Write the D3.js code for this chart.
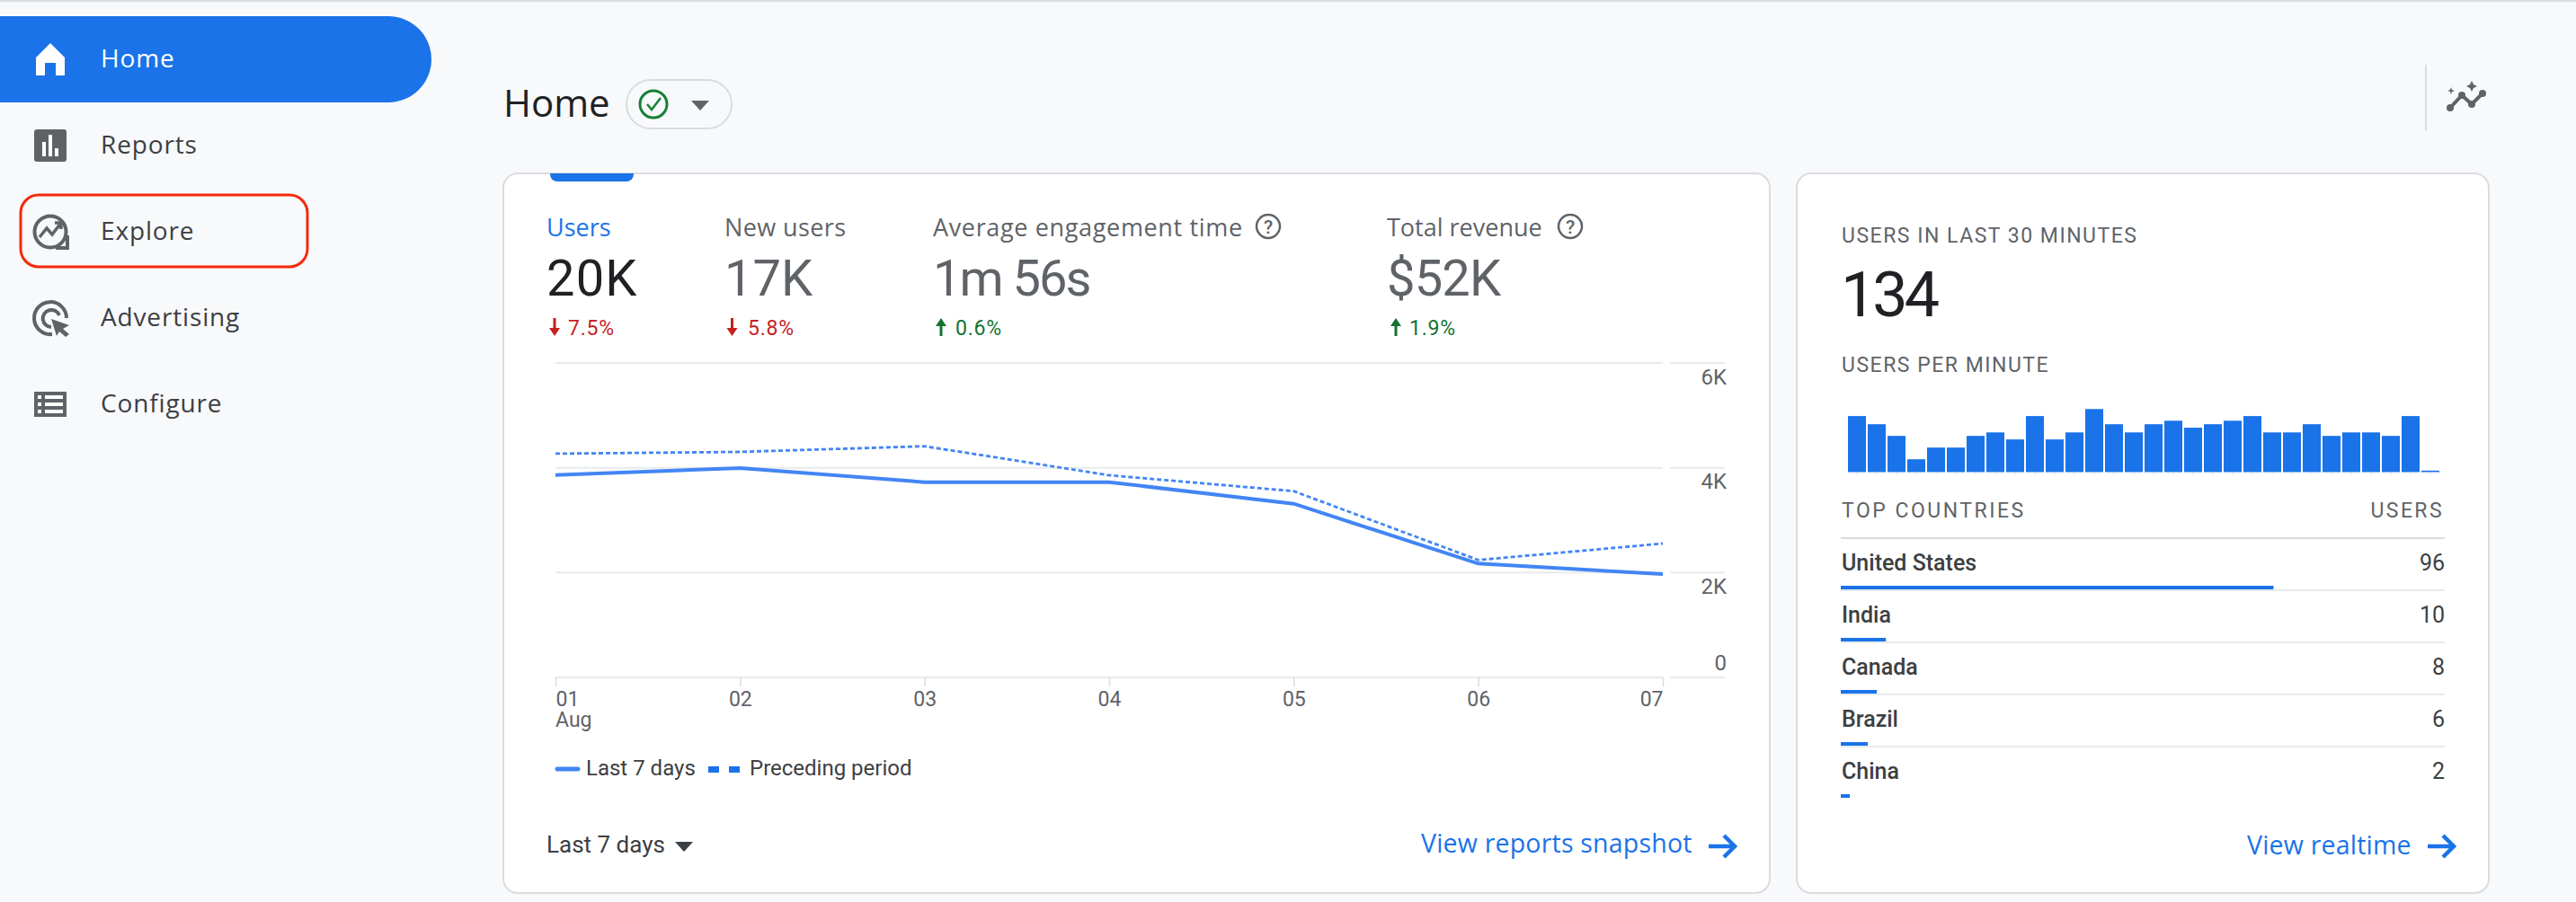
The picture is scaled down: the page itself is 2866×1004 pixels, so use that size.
<!DOCTYPE html>
<html>
<head>
<meta charset="utf-8">
<script src="https://cdnjs.cloudflare.com/ajax/libs/d3/7.8.5/d3.min.js"></script>
<style>
  html, body { margin: 0; padding: 0; background: #f8f9fb; }
  svg { display: block; }
  text { font-family: Roboto, sans-serif; }
</style>
</head>
<body>
<svg id="page"></svg>
<script>
const navItems = ["Home", "Reports", "Explore", "Advertising", "Configure"];

const metricNames = ["Users", "New users", "Average engagement time", "Total revenue"];
const metricValues = ["20K", "17K", "1m 56s", "$52K"];
const metricDeltas = ["7.5%", "5.8%", "0.6%", "1.9%"];
const metricDirections = ["down", "down", "up", "up"];

const days = ["01", "02", "03", "04", "05", "06", "07"];
const last7Days = [3860, 3994, 3726, 3726, 3314, 2171, 1971];
const precedingPeriod = [4269, 4303, 4411, 3857, 3554, 2240, 2554];
const yTicks = [0, 2000, 4000, 6000];

const usersPerMinute = [4.8, 4.1, 3.1, 1.1, 2.1, 2.1, 3.1, 3.4, 2.8, 4.8, 2.8, 3.4, 5.4, 4.1, 3.4,
  4.1, 4.4, 3.8, 4.1, 4.4, 4.8, 3.4, 3.4, 4.1, 3.1, 3.4, 3.4, 3.1, 4.8, 0.13];

const countries = ["United States", "India", "Canada", "Brazil", "China"];
const countryUsers = [96, 10, 8, 6, 2];
const totalUsers = 134;

const blue = "#1a73e8", lineBlue = "#4285f4", grey = "#5f6368", dark = "#202124", mid = "#3c4043";
const border = "#dadce0", grid = "#e8eaed";
const sans = "'Open Sans', sans-serif";

const svg = d3.select("#page").attr("width", 2866).attr("height", 1004).attr("viewBox", [0, 0, 2866, 1004]);

const txt = (x, y, str, size, fill, o = {}) => svg.append("text")
  .attr("x", x).attr("y", y)
  .attr("text-anchor", o.anchor || "start")
  .style("font-family", o.family || "Roboto, sans-serif")
  .style("font-size", size + "px")
  .style("font-weight", o.weight || 400)
  .style("letter-spacing", (o.spacing || 0) + "px")
  .attr("fill", fill)
  .text(str);

// top rule
svg.append("rect").attr("width", 2866).attr("height", 2).attr("fill", border);

// sidebar
svg.append("path").attr("d", "M0 18H432A48 48 0 0 1 432 114H0Z").attr("fill", blue);
svg.append("rect").attr("x", 23).attr("y", 217).attr("width", 319).attr("height", 80).attr("rx", 20)
  .attr("fill", "none").attr("stroke", "#f52a0c").attr("stroke-width", 3);

const navY = d3.scalePoint().domain(navItems).range([75, 459]);
navItems.forEach((d, i) => txt(112, navY(d), d, 28, i ? mid : "#fff", {family: sans, spacing: 0.85}));

// sidebar icons
svg.append("path").attr("d", "M56 48L72 64V84H62V70H50V84H40V64Z").attr("fill", "#fff");
svg.append("rect").attr("x", 38).attr("y", 144).attr("width", 36).attr("height", 36).attr("rx", 3).attr("fill", grey);
svg.append("path").attr("d", "M47 158h4v16h-4zM54 150h4v24h-4zM61 165h4v9h-4z").attr("fill", "#fff");
svg.append("circle").attr("cx", 56).attr("cy", 258).attr("r", 17.5).attr("fill", "none").attr("stroke", grey).attr("stroke-width", 4);
svg.append("path").attr("d", "M44 264L52 254L58 261L68 248M61 248H68V255").attr("fill", "none").attr("stroke", grey).attr("stroke-width", 3.5);
svg.append("path").attr("d", "M62 276H75V262").attr("fill", "none").attr("stroke", grey).attr("stroke-width", 4);
svg.append("path").attr("d", "M58 372A18 18 0 1 1 74 354M57 364A9.5 9.5 0 1 1 66 351").attr("fill", "none").attr("stroke", grey).attr("stroke-width", 4);
svg.append("path").attr("d", "M57 355L77 362L70 366L77 372L73 375L66 369L63 374Z").attr("fill", grey);
svg.append("rect").attr("x", 38).attr("y", 436).attr("width", 36).attr("height", 28).attr("fill", grey);
svg.append("path").attr("d", "M42 440h4v4h-4zM50 440h20v4h-20zM42 448h4v4h-4zM50 448h20v4h-20zM42 456h4v4h-4zM50 456h20v4h-20z").attr("fill", "#fff");

// page title
txt(560, 130, "Home", 42, dark, {family: sans});
svg.append("rect").attr("x", 697).attr("y", 89).attr("width", 117).attr("height", 54).attr("rx", 27)
  .attr("fill", "none").attr("stroke", border).attr("stroke-width", 2);
svg.append("circle").attr("cx", 727).attr("cy", 116).attr("r", 15).attr("fill", "none").attr("stroke", "#188038").attr("stroke-width", 3);
svg.append("path").attr("d", "M720 116L725 122L735 109").attr("fill", "none").attr("stroke", "#188038").attr("stroke-width", 2.5);
svg.append("path").attr("d", "M769 112H789L779 123Z").attr("fill", grey);
svg.append("rect").attr("x", 2698).attr("y", 72).attr("width", 2).attr("height", 73).attr("fill", border);
svg.append("path").attr("d", "M2726 120L2739 106L2750 116L2762 104").attr("fill", "none").attr("stroke", grey).attr("stroke-width", 4);
svg.selectAll("circle.dot").data([[2726, 120], [2739, 106], [2750, 116], [2762, 104]]).join("circle")
  .attr("cx", d => d[0]).attr("cy", d => d[1]).attr("r", 4).attr("fill", grey);
svg.append("path").attr("d", "M2750 90L2752 94L2756 96L2752 98L2750 102L2748 98L2744 96L2748 94ZM2727 97L2728 100L2731 101L2728 102L2727 105L2726 102L2723 101L2726 100Z").attr("fill", grey);

// cards
[[560, 1409], [1999, 770]].forEach(([cx, w]) => {
  svg.append("rect").attr("x", cx).attr("y", 193).attr("width", w).attr("height", 801).attr("rx", 16)
    .attr("fill", "#fff").attr("stroke", border).attr("stroke-width", 2);
});
svg.append("path").attr("d", "M612 193H705V194A8 8 0 0 1 697 202H620A8 8 0 0 1 612 194Z").attr("fill", blue);

// metric tabs
const metricX = [608, 806, 1038, 1543];
const labelSpacing = [0, 0.4, 0.65, 0];
const valueSpacing = [1.2, 0, -2, -0.8];
const helpX = [null, null, 1411, 1747];
const deltaArrowX = [617, 814.5, 1047, 1553];
const deltaTextX = [632, 832, 1063, 1568];
metricNames.forEach((d, i) => {
  txt(metricX[i], 263, d, 27, i ? grey : blue, {family: sans, spacing: labelSpacing[i]});
  txt(metricX[i], 329, metricValues[i], 56, i ? grey : dark, {spacing: valueSpacing[i]});
  const c = metricDirections[i] === "up" ? "#137333" : "#c5221f";
  txt(deltaTextX[i], 373, metricDeltas[i], 23, c, {spacing: 0.8});
  const ax = deltaArrowX[i];
  svg.append("path").attr("fill", c).attr("d", metricDirections[i] === "up"
    ? `M${ax} 354l6 9h-4.5v11h-3v-11h-4.5z`
    : `M${ax} 374l6 -9h-4.5v-11h-3v11h-4.5z`);
  if (helpX[i]) {
    svg.append("circle").attr("cx", helpX[i]).attr("cy", 252).attr("r", 13).attr("fill", "none").attr("stroke", grey).attr("stroke-width", 2.5);
    txt(helpX[i], 260, "?", 21, grey, {anchor: "middle", weight: 500});
  }
});

// line chart
const x = d3.scalePoint().domain(days).range([618, 1850]);
const y = d3.scaleLinear().domain([0, 6000]).range([754, 404]);

const gridG = svg.append("g");
yTicks.forEach(t => {
  [[618, 1850], [1858, 1919]].forEach(([a, b]) => {
    gridG.append("line").attr("x1", a).attr("x2", b).attr("y1", y(t)).attr("y2", y(t))
      .attr("stroke", grid).attr("stroke-width", 2);
  });
});

const yAxis = svg.append("g").attr("transform", "translate(1921,0)")
  .call(d3.axisLeft(y).tickValues(yTicks).tickSize(0).tickFormat(d => d ? d / 1000 + "K" : "0"));
yAxis.select(".domain").remove();
yAxis.selectAll("text").attr("x", 0).attr("dy", d => d ? 23 : -9).attr("fill", grey)
  .style("font-size", "24px").style("font-family", "Roboto, sans-serif");

const xAxis = svg.append("g").attr("transform", "translate(0,754)")
  .call(d3.axisBottom(x).tickSize(10));
xAxis.select(".domain").remove();
xAxis.selectAll("line").attr("stroke", "#dadce0").attr("stroke-width", 1.5);
xAxis.selectAll("text").attr("y", 32).attr("dy", 0).attr("fill", grey)
  .style("font-size", "23px").style("font-family", "Roboto, sans-serif")
  .attr("text-anchor", (d, i) => i === 0 ? "start" : i === days.length - 1 ? "end" : "middle");
txt(618, 809, "Aug", 23, grey);

const line = d3.line().x((d, i) => x(days[i])).y(d => y(d));
svg.append("path").datum(precedingPeriod).attr("d", line).attr("fill", "none")
  .attr("stroke", lineBlue).attr("stroke-width", 2.8).attr("stroke-dasharray", "5 3");
svg.append("path").datum(last7Days).attr("d", line).attr("fill", "none")
  .attr("stroke", lineBlue).attr("stroke-width", 4);

// legend
svg.append("line").attr("x1", 620).attr("x2", 643).attr("y1", 856).attr("y2", 856)
  .attr("stroke", lineBlue).attr("stroke-width", 5).attr("stroke-linecap", "round");
txt(652, 863, "Last 7 days", 24, mid);
svg.append("path").attr("d", "M788 853h12v7h-12zM811 853h12v7h-12z").attr("fill", blue);
txt(834, 863, "Preceding period", 24, mid);

// card footers
txt(608, 949, "Last 7 days", 26, mid);
svg.append("path").attr("d", "M751 937H771L761 948Z").attr("fill", mid);
txt(1581, 949, "View reports snapshot", 28.5, blue, {family: sans, weight: 500, spacing: 0.2});
svg.append("path").attr("d", "M1901 942H1930M1918 930L1930 942L1918 954").attr("fill", "none").attr("stroke", blue).attr("stroke-width", 4.5);
txt(2500, 951, "View realtime", 28.5, blue, {family: sans, weight: 500, spacing: 0.2});
svg.append("path").attr("d", "M2701 942H2730M2718 930L2730 942L2718 954").attr("fill", "none").attr("stroke", blue).attr("stroke-width", 4.5);

// realtime card
txt(2049, 270, "USERS IN LAST 30 MINUTES", 23, grey, {spacing: 1.5});
txt(2048, 352, "134", 70, dark, {spacing: -4});
txt(2049, 414, "USERS PER MINUTE", 23, grey, {spacing: 1.5});

const barX = d3.scaleBand().domain(d3.range(usersPerMinute.length)).range([2055, 2715]).paddingInner(0.09).paddingOuter(0.045);
const barY = d3.scaleLinear().domain([0, 6]).range([525.5, 447.5]);
svg.selectAll("rect.minute").data(usersPerMinute).join("rect").attr("class", "minute")
  .attr("x", (d, i) => barX(i)).attr("y", d => barY(d))
  .attr("width", barX.bandwidth()).attr("height", d => barY(0) - barY(d))
  .attr("fill", blue);
const barAxis = svg.append("g").attr("transform", "translate(0,526)")
  .call(d3.axisBottom(barX).tickSize(2).tickFormat(""));
barAxis.select(".domain").remove();
barAxis.selectAll("line").attr("stroke", "#dadce0");

txt(2049, 576, "TOP COUNTRIES", 23, grey, {spacing: 2.5});
txt(2719, 576, "USERS", 23, grey, {anchor: "end", spacing: 2.4});
svg.append("line").attr("x1", 2048).attr("x2", 2720).attr("y1", 599).attr("y2", 599).attr("stroke", border).attr("stroke-width", 2);

const countryX = d3.scaleLinear().domain([0, totalUsers]).range([2048, 2720]);
const countryY = d3.scaleBand().domain(countries).range([599, 889]);
countries.forEach((d, i) => {
  const top = countryY(d);
  if (i < countries.length - 1) {
    svg.append("line").attr("x1", 2048).attr("x2", 2720).attr("y1", top + 58).attr("y2", top + 58).attr("stroke", grid).attr("stroke-width", 2);
  }
  svg.append("rect").attr("x", countryX(0)).attr("y", top + 53).attr("height", 4)
    .attr("width", countryX(countryUsers[i]) - countryX(0)).attr("fill", blue);
  txt(2049, top + 36, d, 25, mid, {weight: 500});
  txt(2720, top + 36, countryUsers[i], 25, mid, {anchor: "end"});
});
</script>
</body>
</html>
